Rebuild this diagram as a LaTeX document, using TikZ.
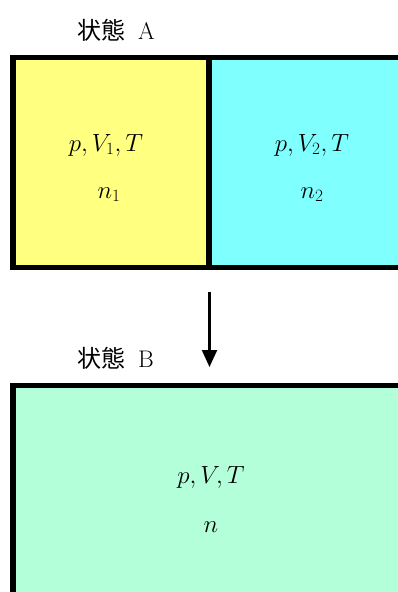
\documentclass[tikz,border=0pt]{standalone}
\usepackage{fontspec}
\newfontfamily\cjk{Noto Sans CJK JP}
\usetikzlibrary{arrows.meta}
\definecolor{yel}{RGB}{255,255,128}
\definecolor{cya}{RGB}{128,255,255}
\definecolor{grn}{RGB}{179,255,217}
\tikzset{
  boxline/.style={line width=5.5pt, draw=black, line join=miter},
  label/.style={anchor=base west, inner sep=0pt, font=\fontsize{24}{28}\selectfont},
  mathtxt/.style={anchor=base, inner sep=0pt, font=\fontsize{25}{30}\selectfont},
  conn/.style={line width=2.2pt, -{Triangle[width=15pt,length=17pt]}}
}
\begin{document}
\begin{tikzpicture}[x=1pt,y=-1pt]
\useasboundingbox (0,0) rectangle (398,592);
\clip (0,0) rectangle (398,592);
% state A
\fill[yel] (13,57.5) rectangle (209,267.5);
\fill[cya] (209,57.5) rectangle (415,267.5);
\draw[boxline] (13,57.5) rectangle (415,267.5);
\draw[boxline] (209,57.5) -- (209,267.5);
% state B
\fill[grn] (13,385.5) rectangle (415,610);
\draw[boxline] (13,385.5) rectangle (415,610);
% labels
\node[label] (la) at (77,39) {{\cjk 状態}\hspace{13pt}A};
\node[label] (lb) at (77,367) {{\cjk 状態}\hspace{13pt}B};
% texts
\node[mathtxt] (a1) at (106,151) {$p,V_1,T$};
\node[mathtxt] (a2) at (109,198) {$n_1$};
\node[mathtxt] (b1) at (312,151) {$p,V_2,T$};
\node[mathtxt] (b2) at (312,198) {$n_2$};
\node[mathtxt] (c1) at (211,483) {$p,V,T$};
\node[mathtxt] (c2) at (211,532) {$n$};
% arrow
\coordinate (s) at (209.5,292);
\coordinate (e) at (209.5,367);
\draw[conn] (s) -- (e);
\end{tikzpicture}
\end{document}
